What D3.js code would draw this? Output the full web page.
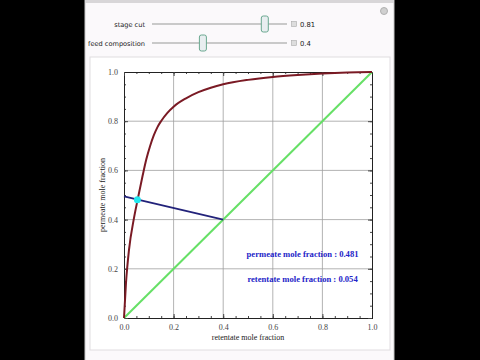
<!DOCTYPE html>
<html lang="en">
<head>
<meta charset="utf-8">
<title>Membrane separation - stage cut</title>
<script src="https://d3js.org/d3.v7.min.js"></script>
<style>
  body { margin: 0; background: #000; }
  svg { display: block; }
</style>
</head>
<body>
<svg id="chart" width="480" height="360"></svg>
<script>
// slider settings
var stageCut = 0.81;
var feedComp = 0.4;

// equilibrium curve (retentate x, permeate y)
var curveX = [0, 0.008, 0.02, 0.04, 0.055, 0.075, 0.09, 0.105, 0.12, 0.135, 0.15, 0.175, 0.2, 0.25, 0.3, 0.35, 0.4, 0.5, 0.6, 0.7, 0.8, 0.9, 1.0];
var curveY = [0, 0.142, 0.276, 0.405, 0.481, 0.578, 0.645, 0.698, 0.742, 0.776, 0.801, 0.834, 0.859, 0.893, 0.918, 0.936, 0.950, 0.968, 0.980, 0.988, 0.994, 0.998, 1.0];

// operating line from the y axis to the feed point on the diagonal
var opX = [0, 0.4];
var opY = [0.494, 0.4];

// solution point
var retentate = 0.054;
var permeate = 0.481;

var ticks = [0, 0.2, 0.4, 0.6, 0.8, 1.0];

var svg = d3.select('#chart');

// panel
svg.append('rect').attr('x', 85).attr('y', -2).attr('width', 309).attr('height', 364)
  .attr('fill', '#fbf9fb').attr('stroke', '#c8c8c8');
svg.append('rect').attr('x', 85).attr('y', 0).attr('width', 309).attr('height', 3)
  .attr('fill', '#d8d6d8');
svg.append('rect').attr('x', 90).attr('y', 57).attr('width', 300).attr('height', 293)
  .attr('fill', '#ffffff').attr('stroke', '#e0dde0');

// gear icon
svg.append('circle').attr('cx', 384).attr('cy', 11).attr('r', 3.5)
  .attr('fill', '#d0d0d0').attr('stroke', '#b0b0b0');

// sliders
var sliders = [
  {label: 'stage cut', value: stageCut, y: 24},
  {label: 'feed composition', value: feedComp, y: 43}
];
var sx = d3.scaleLinear().domain([0, 1]).range([142.5, 293.5]);

sliders.forEach(function(s) {
  var g = svg.append('g');
  g.append('text').attr('x', 145).attr('y', s.y + 3)
    .attr('text-anchor', 'end').attr('font-family', 'DejaVu Sans')
    .attr('font-size', '6.6px').attr('fill', '#222').text(s.label);
  g.append('line').attr('x1', 152).attr('x2', 287).attr('y1', s.y).attr('y2', s.y)
    .attr('stroke', '#b8b8b8').attr('stroke-width', 1.5);
  g.append('rect').attr('x', sx(s.value) - 3.5).attr('y', s.y - 8).attr('width', 7).attr('height', 16)
    .attr('rx', 2).attr('fill', '#e8eef0').attr('stroke', '#6aa890');
  g.append('rect').attr('x', 291.5).attr('y', s.y - 2.5).attr('width', 5).attr('height', 5)
    .attr('fill', '#ddd').attr('stroke', '#aaa').attr('stroke-width', 0.6);
  g.append('text').attr('x', 300).attr('y', s.y + 3)
    .attr('font-family', 'DejaVu Sans').attr('font-size', '6.8px').attr('fill', '#222')
    .text(s.value);
});

// plot area
var x = d3.scaleLinear().domain([0, 1]).range([124, 372]);
var y = d3.scaleLinear().domain([0, 1]).range([318, 72]);

var plot = svg.append('g');

// grid
plot.selectAll('.vgrid').data(ticks.slice(1, 5)).join('line')
  .attr('x1', d => x(d)).attr('x2', d => x(d)).attr('y1', y(0)).attr('y2', y(1))
  .attr('stroke', '#a0a0a0').attr('stroke-width', 0.8);
plot.selectAll('.hgrid').data(ticks.slice(1, 5)).join('line')
  .attr('y1', d => y(d)).attr('y2', d => y(d)).attr('x1', x(0)).attr('x2', x(1))
  .attr('stroke', '#a0a0a0').attr('stroke-width', 0.8);

// frame axes with inward ticks
var minor = d3.range(0, 1.0001, 0.05);
function frameAxis(axis, tr) {
  var g = plot.append('g').attr('transform', tr).call(axis);
  g.select('.domain').attr('stroke', '#222');
  g.selectAll('.tick line').attr('stroke', '#444');
  g.selectAll('text').attr('font-family', 'Liberation Serif').attr('font-size', '8px').attr('fill', '#444');
  return g;
}
// minor ticks
[d3.axisBottom(x).tickValues(minor).tickSize(-2).tickFormat(''),
 d3.axisTop(x).tickValues(minor).tickSize(-2).tickFormat('')].forEach(function(a, i) {
  frameAxis(a, 'translate(0,' + (i === 0 ? y(0) : y(1)) + ')');
});
[d3.axisLeft(y).tickValues(minor).tickSize(-2).tickFormat(''),
 d3.axisRight(y).tickValues(minor).tickSize(-2).tickFormat('')].forEach(function(a, i) {
  frameAxis(a, 'translate(' + (i === 0 ? x(0) : x(1)) + ',0)');
});
// major ticks with labels
frameAxis(d3.axisBottom(x).tickValues(ticks).tickSize(-4).tickPadding(6).tickFormat(d3.format('.1f')),
  'translate(0,' + y(0) + ')');
frameAxis(d3.axisLeft(y).tickValues(ticks).tickSize(-4).tickPadding(6).tickFormat(d3.format('.1f')),
  'translate(' + x(0) + ',0)');
frameAxis(d3.axisTop(x).tickValues(ticks).tickSize(-4).tickFormat(''), 'translate(0,' + y(1) + ')');
frameAxis(d3.axisRight(y).tickValues(ticks).tickSize(-4).tickFormat(''), 'translate(' + x(1) + ',0)');

// axis labels
svg.append('text').attr('x', 248).attr('y', 340).attr('text-anchor', 'middle')
  .attr('font-family', 'Liberation Serif').attr('font-size', '8px').attr('fill', '#222')
  .text('retentate mole fraction');
svg.append('text').attr('transform', 'translate(105,195) rotate(-90)').attr('text-anchor', 'middle')
  .attr('font-family', 'Liberation Serif').attr('font-size', '8px').attr('fill', '#222')
  .text('permeate mole fraction');

// diagonal
plot.append('line').attr('x1', x(0)).attr('y1', y(0)).attr('x2', x(1)).attr('y2', y(1))
  .attr('stroke', '#66e066').attr('stroke-width', 2);

// equilibrium curve
var curveData = curveX.map((d, i) => ({x: d, y: curveY[i]}));
plot.append('path').datum(curveData)
  .attr('d', d3.line().x(d => x(d.x)).y(d => y(d.y)).curve(d3.curveMonotoneX))
  .attr('fill', 'none').attr('stroke', '#7a1a24').attr('stroke-width', 2);

// operating line
plot.append('line').attr('x1', x(opX[0])).attr('y1', y(opY[0])).attr('x2', x(opX[1])).attr('y2', y(opY[1]))
  .attr('stroke', '#22227a').attr('stroke-width', 1.8);

// solution point
plot.append('circle').attr('cx', x(retentate)).attr('cy', y(permeate)).attr('r', 3.5)
  .attr('fill', '#22e8f0');

// results
var results = [
  {text: 'permeate mole fraction : ' + permeate.toFixed(3), yy: 0.25},
  {text: 'retentate mole fraction : ' + retentate.toFixed(3), yy: 0.147}
];
plot.selectAll('.res').data(results).join('text')
  .attr('x', x(0.72)).attr('y', d => y(d.yy))
  .attr('text-anchor', 'middle').attr('font-family', 'Liberation Serif')
  .attr('font-weight', 'bold').attr('font-size', '8.6px').attr('fill', '#2424c8')
  .text(d => d.text);
</script>
</body>
</html>
